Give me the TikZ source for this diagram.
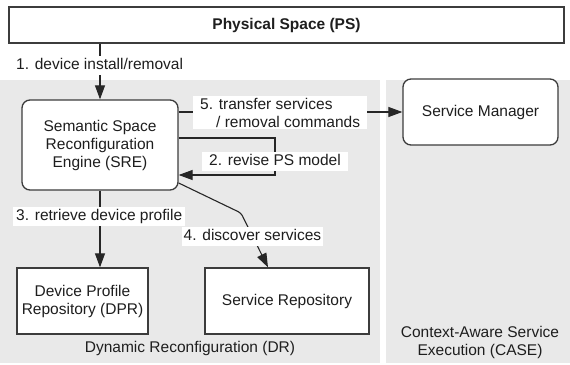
\documentclass[tikz,border=0pt]{standalone}
\usepackage{fontspec}
\setmainfont{Liberation Sans}
\usetikzlibrary{arrows.meta}
\definecolor{zonegray}{HTML}{E9E9E9}
\definecolor{edgegray}{HTML}{3C3C3C}
\definecolor{inkdark}{HTML}{1E1E1E}
\begin{document}
\begin{tikzpicture}[x=1pt,y=-1pt,
  font=\fontsize{15.5}{18}\selectfont, text=inkdark,
  zone/.style={fill=zonegray, draw=none, inner sep=0pt},
  block/.style={draw=edgegray, line width=1.3pt, fill=white, align=center, inner sep=0pt},
  roundblock/.style={block, rounded corners=8pt},
  link/.style={draw=black!85, line width=1.1pt, -{Triangle[length=14pt,width=10pt]}},
  tag/.style={fill=white, inner xsep=6pt, inner ysep=2pt, align=left},
  tagline/.style={tag, text height=11.5pt, text depth=3.5pt}]
\useasboundingbox (0,0) rectangle (570,364);

% background zones
\node[zone, minimum width=380pt, minimum height=283pt] (dr) at (190,221.5) {};
\node[zone, minimum width=184pt, minimum height=283pt] (case) at (478,221.5) {};

% blocks
\node[block, minimum width=555pt, minimum height=36pt] (ps) at (286.5,25) {\textbf{Physical Space (PS)}};
\node[roundblock, minimum width=156pt, minimum height=90pt] (sre) at (100,145)
  {Semantic Space\\Reconfiguration\\Engine (SRE)};
\node[roundblock, minimum width=155pt, minimum height=66pt] (sm) at (480.5,112) {Service Manager};
\node[block, minimum width=131pt, minimum height=66pt] (dpr) at (82.5,301)
  {Device Profile\\Repository (DPR)};
\node[block, minimum width=164pt, minimum height=66pt] (sr) at (287,301) {Service Repository};

% zone captions
\node (drcap) at (190,348) {Dynamic Reconfiguration (DR)};
\node[align=center] (casecap) at (480,342.5) {Context-Aware Service\\Execution (CASE)};

% 1. device install/removal
\draw[link] (ps.south -| sre.north) -- (sre.north);
\node[tagline, anchor=west, inner xsep=3pt] (l1) at (13,65) {1. device install/removal};

% 5. transfer services / removal commands
\draw[link] (sre.east |- sm) -- (sm.west);
\node[tag, anchor=west, inner xsep=7pt] (l5) at (193,112.5)
  {5. transfer services\\\hspace*{16pt}/ removal commands};

% 2. revise PS model (loop back into the engine)
\coordinate (lpa) at (275,138);
\coordinate (lpb) at (275,175);
\draw[link] (sre.east |- lpa) -- (lpa) -- (lpb) -- (sre.east |- lpb);
\node[tagline, inner xsep=7pt] (l2) at (275,161) {2. revise PS model};

% 3. retrieve device profile
\draw[link] (sre.south) -- (sre.south |- dpr.north);
\node[tagline, anchor=west, inner xsep=3pt] (l3) at (13,216.5) {3. retrieve device profile};

% 4. discover services
\coordinate (bend) at (241,213);
\draw[link, rounded corners=3pt] (sre.east |- 0,183) -- (bend) -- (268,0 |- sr.north);
\node[tagline, inner xsep=2pt] (l4) at (252.5,236) {4. discover services};
\end{tikzpicture}
\end{document}
